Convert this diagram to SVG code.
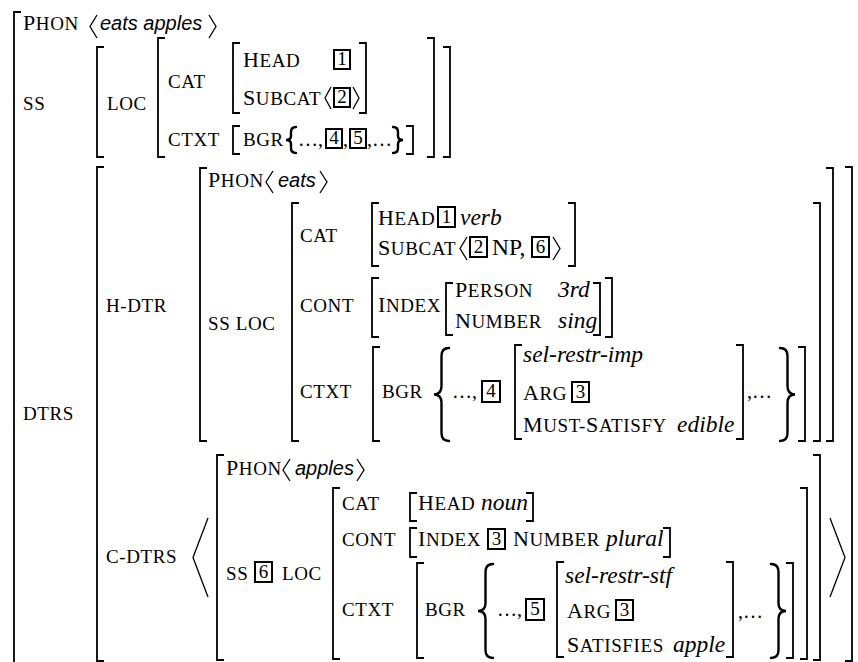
<svg xmlns="http://www.w3.org/2000/svg" width="858" height="662" viewBox="0 0 858 662">
<style>
.sc{font-family:"Liberation Serif","Times New Roman",serif;font-size:19px;letter-spacing:0.6px;fill:#000}
.c{font-size:22px}
.it{font-family:"Liberation Serif","Times New Roman",serif;font-style:italic;font-size:23.5px;fill:#000}
.rm{font-family:"Liberation Serif","Times New Roman",serif;font-size:23.5px;fill:#000}
.el{font-family:"Liberation Serif","Times New Roman",serif;font-size:20px;fill:#000}
.ph{font-family:"Liberation Sans",Arial,sans-serif;font-style:italic;font-size:20px;fill:#000}
.num{font-family:"Liberation Serif","Times New Roman",serif;font-size:19px;text-anchor:middle;fill:#000}
.br{fill:none;stroke:#000;stroke-width:1.8}
.ang{fill:none;stroke:#000;stroke-width:1.3}
.brace{fill:none;stroke:#000;stroke-width:2.4;stroke-linecap:round}
.box{fill:none;stroke:#000;stroke-width:2}
</style>
<rect width="858" height="662" fill="#fff"/>

<g id="outer">
<path class="br" d="M21,12 H14 V670"/>
</g>

<g id="top">
<text x="23" y="30" class="sc"><tspan class="c">P</tspan>HON</text>
<polyline class="ang" points="97,15 90,26.5 97,38"/>
<text x="100" y="30" class="ph">eats apples</text>
<polyline class="ang" points="209,15 216,26.5 209,38"/>

<text x="23" y="110" class="sc">SS</text>
<path class="br" d="M104,47 H97 V157 H104"/>
<path class="br" d="M443,47 H450 V157 H443"/>
<text x="107" y="110" class="sc">LOC</text>
<path class="br" d="M165,38 H158 V157 H165"/>
<path class="br" d="M427,38 H434 V157 H427"/>

<text x="168" y="88" class="sc">CAT</text>
<path class="br" d="M240,43 H233 V113 H240"/>
<path class="br" d="M359,43 H366 V113 H359"/>
<text x="243" y="67" class="sc"><tspan class="c">H</tspan>EAD</text>
<rect class="box" x="334" y="50" width="16" height="19"/><text x="342" y="65" class="num">1</text>
<text x="243" y="105" class="sc"><tspan class="c">S</tspan>UBCAT</text>
<polyline class="ang" points="331,87 325,98 331,109"/>
<rect class="box" x="334" y="88" width="16" height="19"/><text x="342" y="103" class="num">2</text>
<polyline class="ang" points="353,87 359,98 353,109"/>

<text x="168" y="146" class="sc">CTXT</text>
<path class="br" d="M240,126 H233 V154 H240"/>
<path class="br" d="M406,126 H413 V154 H406"/>
<text x="243" y="146" class="sc">BGR</text>
<path class="brace" d="M296,127 Q291,127 291,132 L291,136 Q291,140 286,140 Q291,140 291,144 L291,148 Q291,153 296,153"/>
<text x="298" y="146" class="el">…,</text>
<rect class="box" x="326" y="129" width="16" height="19"/><text x="334" y="144" class="num">4</text>
<text x="343" y="146" class="el">,</text>
<rect class="box" x="350" y="129" width="16" height="19"/><text x="358" y="144" class="num">5</text>
<text x="367" y="146" class="el">,…</text>
<path class="brace" d="M393,127 Q398,127 398,132 L398,136 Q398,140 403,140 Q398,140 398,144 L398,148 Q398,153 393,153"/>
</g>

<g id="dtrs">
<text x="23" y="420" class="sc">DTRS</text>
<path class="br" d="M104,167 H97 V661 H104"/>
<path class="br" d="M845,167 H852 V661 H845"/>
</g>

<g id="h-dtr">
<text x="106" y="312" class="sc">H-DTR</text>
<path class="br" d="M207,168 H200 V441 H207"/>
<path class="br" d="M826,168 H833 V441 H826"/>
<text x="208" y="187" class="sc"><tspan class="c">P</tspan>HON</text>
<polyline class="ang" points="273,171 266,182 273,193"/>
<text x="278" y="187" class="ph">eats</text>
<polyline class="ang" points="320,171 327,182 320,193"/>

<text x="208" y="330" class="sc">SS LOC</text>
<path class="br" d="M299,203 H292 V441 H299"/>
<path class="br" d="M813,203 H820 V441 H813"/>

<text x="300" y="242" class="sc">CAT</text>
<path class="br" d="M379,203 H372 V266 H379"/>
<path class="br" d="M568,203 H575 V266 H568"/>
<text x="378" y="225" class="sc"><tspan class="c">H</tspan>EAD</text>
<rect class="box" x="438" y="207" width="17" height="20"/><text x="446.5" y="223" class="num">1</text>
<text x="460" y="225" class="it">verb</text>
<text x="378" y="255" class="sc"><tspan class="c">S</tspan>UBCAT</text>
<polyline class="ang" points="467,237 460,248.5 467,260"/>
<rect class="box" x="470" y="237" width="17" height="20"/><text x="478.5" y="253" class="num">2</text>
<text x="492" y="255" class="rm">NP,</text>
<rect class="box" x="532" y="237" width="17" height="20"/><text x="540.5" y="253" class="num">6</text>
<polyline class="ang" points="553,237 560,248.5 553,260"/>

<text x="300" y="312" class="sc">CONT</text>
<path class="br" d="M379,278 H372 V337 H379"/>
<path class="br" d="M605,278 H612 V337 H605"/>
<text x="378" y="312" class="sc"><tspan class="c">I</tspan>NDEX</text>
<path class="br" d="M453,283 H446 V335 H453"/>
<path class="br" d="M593,283 H600 V335 H593"/>
<text x="455" y="297" class="sc"><tspan class="c">P</tspan>ERSON</text>
<text x="558" y="297" class="it">3rd</text>
<text x="455" y="328" class="sc"><tspan class="c">N</tspan>UMBER</text>
<text x="558" y="328" class="it">sing</text>

<text x="300" y="398" class="sc">CTXT</text>
<path class="br" d="M380,347 H373 V441 H380"/>
<path class="br" d="M798,347 H805 V441 H798"/>
<text x="382" y="398" class="sc">BGR</text>
<path class="brace" d="M449,348 Q441.5,348 441.5,356 L441.5,386 Q441.5,394.5 434,394.5 Q441.5,394.5 441.5,403 L441.5,433 Q441.5,441 449,441"/>
<text x="452" y="398" class="el">…,</text>
<rect class="box" x="482" y="381" width="18" height="21"/><text x="491" y="397" class="num">4</text>
<path class="br" d="M522,345 H515 V439 H522"/>
<path class="br" d="M736,345 H743 V439 H736"/>
<text x="523" y="362" class="it">sel-restr-imp</text>
<text x="523" y="400" class="sc"><tspan class="c">A</tspan>RG</text>
<rect class="box" x="572" y="382" width="17" height="20"/><text x="580.5" y="398" class="num">3</text>
<text x="523" y="432" class="sc"><tspan class="c">M</tspan>UST-<tspan class="c">S</tspan>ATISFY</text>
<text x="677" y="432" class="it">edible</text>
<text x="747" y="398" class="el">,…</text>
<path class="brace" d="M780,348 Q787.5,348 787.5,356 L787.5,386 Q787.5,394.5 795,394.5 Q787.5,394.5 787.5,403 L787.5,433 Q787.5,441 780,441"/>
</g>

<g id="c-dtrs">
<text x="106" y="563" class="sc">C-DTRS</text>
<polyline class="ang" points="208,518 193,557.5 208,597"/>
<path class="br" d="M224,455 H217 V660 H224"/>
<path class="br" d="M813,455 H820 V660 H813"/>
<polyline class="ang" points="830,518 845,557.5 830,597"/>

<text x="226" y="475" class="sc"><tspan class="c">P</tspan>HON</text>
<polyline class="ang" points="290,459 283,470 290,481"/>
<text x="295" y="475" class="ph">apples</text>
<polyline class="ang" points="357,459 364,470 357,481"/>

<text x="226" y="580" class="sc">SS</text>
<rect class="box" x="255" y="562" width="17" height="20"/><text x="263.5" y="578" class="num">6</text>
<text x="282" y="580" class="sc">LOC</text>
<path class="br" d="M340,488 H333 V659 H340"/>
<path class="br" d="M800,488 H807 V659 H800"/>

<text x="342" y="510" class="sc">CAT</text>
<path class="br" d="M417,493 H410 V521 H417"/>
<text x="418" y="510" class="sc"><tspan class="c">H</tspan>EAD</text>
<text x="481" y="510" class="it">noun</text>
<path class="br" d="M526,493 H533 V521 H526"/>

<text x="342" y="546" class="sc">CONT</text>
<path class="br" d="M417,528 H410 V557 H417"/>
<text x="418" y="546" class="sc"><tspan class="c">I</tspan>NDEX</text>
<rect class="box" x="488" y="529" width="17" height="20"/><text x="496.5" y="545" class="num">3</text>
<text x="513" y="546" class="sc"><tspan class="c">N</tspan>UMBER</text>
<text x="606" y="546" class="it">plural</text>
<path class="br" d="M663,528 H670 V557 H663"/>

<text x="342" y="616" class="sc">CTXT</text>
<path class="br" d="M424,563 H417 V658 H424"/>
<path class="br" d="M786,563 H793 V658 H786"/>
<text x="425" y="616" class="sc">BGR</text>
<path class="brace" d="M493,564 Q485.5,564 485.5,572 L485.5,603 Q485.5,611 478,611 Q485.5,611 485.5,619 L485.5,650 Q485.5,658 493,658"/>
<text x="497" y="616" class="el">…,</text>
<rect class="box" x="526" y="599" width="18" height="21"/><text x="535" y="615" class="num">5</text>
<path class="br" d="M564,562 H557 V657 H564"/>
<path class="br" d="M726,562 H733 V657 H726"/>
<text x="565" y="583" class="it">sel-restr-stf</text>
<text x="567" y="618" class="sc"><tspan class="c">A</tspan>RG</text>
<rect class="box" x="616" y="600" width="17" height="20"/><text x="624.5" y="616" class="num">3</text>
<text x="567" y="652" class="sc"><tspan class="c">S</tspan>ATISFIES</text>
<text x="673" y="652" class="it">apple</text>
<text x="738" y="618" class="el">,…</text>
<path class="brace" d="M771,564 Q778.5,564 778.5,572 L778.5,603 Q778.5,611 786,611 Q778.5,611 778.5,619 L778.5,650 Q778.5,658 771,658"/>
</g>
</svg>
